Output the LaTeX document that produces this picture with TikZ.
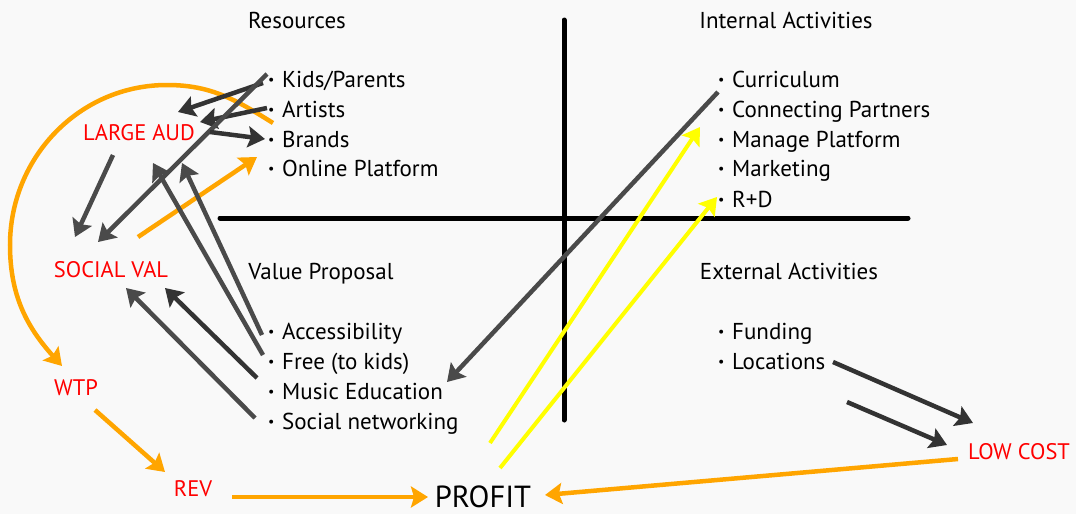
\documentclass[tikz,border=0pt]{standalone}
\usepackage{fontspec}
\setmainfont{PT Sans}
\usetikzlibrary{arrows.meta}
\definecolor{bg}{HTML}{F9F9F9}
\definecolor{dk}{HTML}{333333}
\definecolor{md}{HTML}{4A4A4A}
\definecolor{org}{HTML}{FFA500}
\definecolor{ylw}{HTML}{FFFF00}
\definecolor{rd}{HTML}{FF0000}
\newcommand\bitem[1]{\makebox[14pt][l]{\raisebox{3pt}{\fontsize{14}{14}\selectfont\textbullet}}#1}
\begin{document}
\begin{tikzpicture}[x=1pt,y=-1pt,
 txt/.style={font=\fontsize{23}{27}\selectfont, inner sep=0pt, anchor=base west},
 headtxt/.style={font=\fontsize{23}{27}\selectfont, inner sep=0pt, anchor=base},
 lbl/.style={font=\fontsize{22.5}{27}\selectfont, text=rd, inner sep=0pt, anchor=base},
 axisline/.style={line width=5pt, line cap=round},
 tipstyle/.style={-{Stealth[length=17pt,width=21pt,inset=3pt]}},
 darr/.style={draw=dk, line width=4.5pt, tipstyle},
 marr/.style={draw=md, line width=4.5pt, tipstyle},
 oarr/.style={draw=org, line width=4.5pt, tipstyle},
 yarr/.style={draw=ylw, line width=4pt, tipstyle}]
\fill[bg] (0,0) rectangle (1076,514);
\useasboundingbox (0,0) rectangle (1076,514);
% axes
\coordinate (vtop) at (564,20);
\coordinate (vbot) at (564,420);
\coordinate (hl) at (220,218);
\coordinate (hr) at (908,218);
\draw[axisline] (vtop) -- (vbot);
\draw[axisline] (hl) -- (hr);
% headings
\node[headtxt] (hres) at (297,28) {Resources};
\node[headtxt] (hint) at (786,28) {Internal Activities};
\node[headtxt] (hval) at (321,279) {Value Proposal};
\node[headtxt] (hext) at (789,279) {External Activities};
% resources
\node[txt] (kids) at (268,87) {\bitem{Kids/Parents}};
\node[txt] (artists) at (268,117) {\bitem{Artists}};
\node[txt] (brands) at (268,147) {\bitem{Brands}};
\node[txt] (online) at (268,176) {\bitem{Online Platform}};
% internal
\node[txt] (curr) at (718,87) {\bitem{Curriculum}};
\node[txt] (conn) at (718,117) {\bitem{Connecting Partners}};
\node[txt] (manage) at (718,147) {\bitem{Manage Platform}};
\node[txt] (market) at (718,176) {\bitem{Marketing}};
\node[txt] (rd) at (718,207) {\bitem{R+D}};
% value
\node[txt] (access) at (268,339) {\bitem{Accessibility}};
\node[txt] (free) at (268,369) {\bitem{Free (to kids)}};
\node[txt] (music) at (268,399) {\bitem{Music Education}};
\node[txt] (social) at (268,429) {\bitem{Social networking}};
% external
\node[txt] (fund) at (718,339) {\bitem{Funding}};
\node[txt] (loc) at (718,369) {\bitem{Locations}};
% red labels
\node[lbl] (la) at (139,140) {LARGE AUD};
\node[lbl] (sv) at (111,277) {SOCIAL VAL};
\node[lbl] (wtp) at (76,395) {WTP};
\node[lbl] (rev) at (193,496) {REV};
\node[lbl] (lc) at (1019,459) {LOW COST};
\node[font=\fontsize{30.5}{34}\selectfont, inner sep=0pt, anchor=base] (profit) at (483,507) {PROFIT};
% connector end coordinates
\coordinate (kidsA) at (263,83);   \coordinate (laK) at (178,112);
\coordinate (artA) at (267,108);   \coordinate (laA) at (200,122);
\coordinate (kidsB) at (267,74);   \coordinate (svK) at (98,242);
\coordinate (laB) at (210,132);    \coordinate (brandsE) at (265,139);
\coordinate (laS) at (113,155);    \coordinate (svL) at (75,237);
\coordinate (svO) at (138,237);    \coordinate (onlineE) at (257,157);
\coordinate (accE) at (262,335);   \coordinate (laAc) at (182,163);
\coordinate (freeE) at (263,355);  \coordinate (laF) at (153,163);
\coordinate (musicE) at (257,378); \coordinate (svM) at (165,288);
\coordinate (socE) at (255,418);   \coordinate (svS) at (126,288);
\coordinate (currE) at (718,92);   \coordinate (musicH) at (447,382);
\coordinate (profY1) at (490,443); \coordinate (manageH) at (700,127);
\coordinate (profY2) at (500,468); \coordinate (rdH) at (717,197);
\coordinate (wtpE) at (95,410);    \coordinate (revH) at (165,472);
\coordinate (revE) at (232,497);   \coordinate (profH) at (428,497);
\coordinate (lcE) at (958,459);    \coordinate (profR) at (545,495);
\coordinate (locE) at (833,362);   \coordinate (lcH1) at (973,423);
\coordinate (locF) at (847,402);   \coordinate (lcH2) at (947,445);
\coordinate (brandsO) at (273,123); \coordinate (topO) at (167,85);
\coordinate (leftO) at (10,245); \coordinate (wtpH) at (62,366);
% connectors
\draw[oarr] (brandsO) to[out=148,in=0] (topO) to[out=180,in=90] (leftO) to[out=-90,in=132] (wtpH);
\draw[darr] (kidsA) -- (laK);
\draw[darr] (artA) -- (laA);
\draw[marr] (kidsB) -- (svK);
\draw[darr] (laB) -- (brandsE);
\draw[marr] (laS) -- (svL);
\draw[oarr] (svO) -- (onlineE);
\draw[marr] (accE) -- (laAc);
\draw[marr] (freeE) -- (laF);
\draw[darr] (musicE) -- (svM);
\draw[marr] (socE) -- (svS);
\draw[marr] (currE) -- (musicH);
\draw[yarr] (profY1) -- (manageH);
\draw[yarr] (profY2) -- (rdH);
\draw[oarr] (wtpE) -- (revH);
\draw[oarr] (revE) -- (profH);
\draw[oarr] (lcE) -- (profR);
\draw[darr] (locE) -- (lcH1);
\draw[darr] (locF) -- (lcH2);
\end{tikzpicture}
\end{document}
